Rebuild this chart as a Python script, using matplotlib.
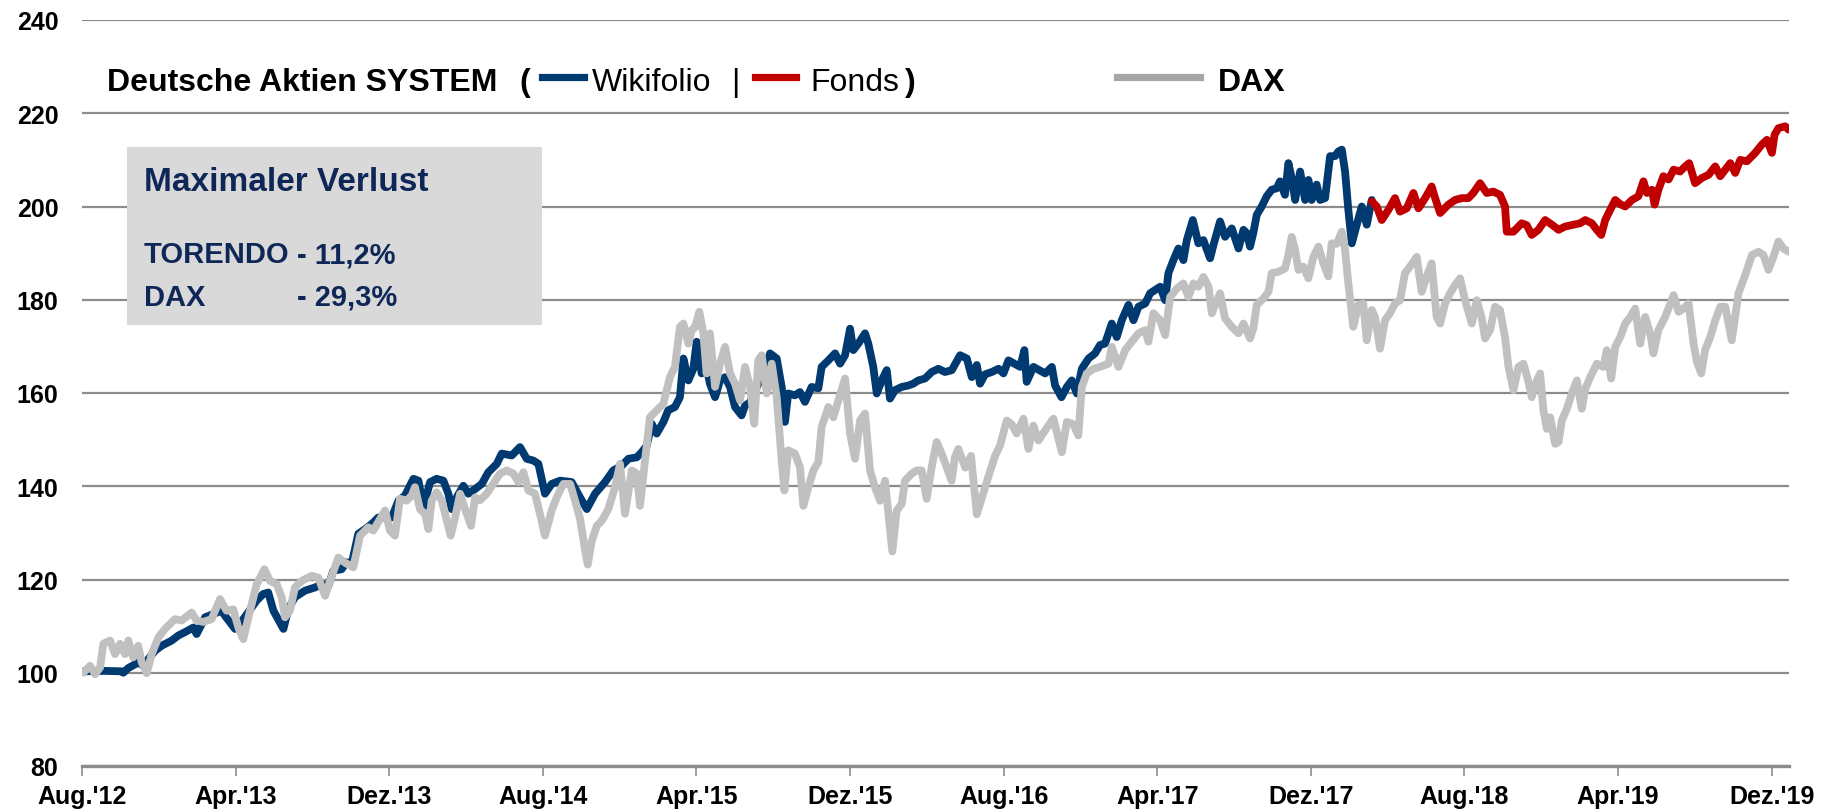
import matplotlib
matplotlib.use("Agg")
import matplotlib.pyplot as plt
from matplotlib.lines import Line2D
from matplotlib.patches import Rectangle

plt.rcParams['font.family'] = ['Liberation Sans', 'DejaVu Sans']

# ---------------- data (x = months since Aug 2012) ----------------
wiki_x = [0.07, 1.2, 2.07, 2.15, 2.41, 2.93, 3.19, 3.37, 3.80, 4.15, 4.67, 5.02, 5.36, 5.80, 5.97,
          6.41, 7.27, 7.45, 7.97, 8.40, 9.10, 9.44, 9.70, 9.97, 10.49, 10.75, 11.09, 11.61, 12.14,
          12.48, 12.83, 13.09, 13.52, 13.78, 14.04, 14.39, 14.74, 15.09, 15.43, 16.13, 16.48, 16.82,
          17.26, 17.52, 17.78, 18.13, 18.47, 18.82, 19.08, 19.25, 19.51, 19.86, 20.12, 20.47, 20.82,
          21.16, 21.60, 21.86, 22.38, 22.81, 23.16, 23.51, 23.77, 24.11, 24.46, 24.90, 25.50, 25.94,
          26.29, 26.72, 27.24, 27.67, 28.11, 28.46, 28.89, 29.15, 29.41, 29.67, 29.93, 30.28, 30.53,
          30.88, 31.14, 31.32, 31.58, 31.84, 32.01, 32.27, 32.53, 32.70, 32.97, 33.23, 33.49, 33.75,
          34.01, 34.35, 34.53, 34.79, 35.22, 35.57, 35.83, 36.18, 36.44, 36.61, 36.78, 37.13, 37.39,
          37.65, 38.00, 38.35, 38.52, 38.87, 39.22, 39.48, 39.74, 40.00, 40.17, 40.43, 40.78, 40.95,
          41.21, 41.39, 41.65, 41.91, 42.08, 42.34, 42.69, 43.03, 43.29, 43.56, 43.90, 44.25, 44.60,
          44.94, 45.30, 45.73, 46.08, 46.34, 46.60, 46.77, 47.03, 47.38, 47.73, 47.99, 48.25, 48.60,
          48.86, 49.08, 49.20, 49.55, 49.90, 50.16, 50.51, 50.68, 51.01, 51.29, 51.55, 51.81, 52.07,
          52.42, 52.76, 53.02, 53.28, 53.63, 53.89, 54.15, 54.50, 54.76, 55.02, 55.37, 55.63, 55.89,
          56.15, 56.41, 56.58, 56.84, 57.10, 57.36, 57.54, 57.85, 58.14, 58.40, 58.75, 58.93, 59.27,
          59.53, 59.88, 60.23, 60.49, 60.66, 60.83, 61.00, 61.18, 61.44, 61.70, 61.96, 62.22, 62.39,
          62.65, 62.83, 63.00, 63.18, 63.44, 63.70, 63.87, 64.04, 64.30, 64.48, 64.74, 65.00, 65.26,
          65.43, 65.61, 65.78, 65.95, 66.13, 66.39, 66.65, 66.91, 67.17]
wiki_y = [100.3, 100.4, 100.3, 100.0, 101.0, 102.2, 101.5, 102.5, 104.7, 105.8, 106.9, 108.0, 108.7,
          109.7, 108.3, 111.9, 113.3, 112.2, 109.4, 111.5, 115.5, 116.9, 117.2, 113.3, 109.4, 113.7,
          116.2, 117.6, 118.3, 119.0, 118.6, 121.9, 122.2, 123.7, 123.3, 129.8, 130.8, 131.9, 133.3,
          133.3, 136.9, 138.0, 141.6, 141.2, 135.5, 140.9, 141.6, 141.2, 138.4, 135.1, 137.6, 140.1,
          138.4, 139.4, 140.5, 143.0, 144.8, 147.0, 146.6, 148.4, 145.9, 145.5, 144.8, 138.4, 140.5,
          141.2, 140.9, 137.6, 135.1, 138.4, 140.9, 143.4, 144.4, 145.9, 146.2, 147.3, 148.7, 153.4,
          151.3, 153.8, 156.3, 157.0, 159.1, 167.4, 162.7, 165.2, 171.0, 164.2, 165.6, 162.0, 159.1,
          162.7, 163.4, 161.3, 157.0, 155.2, 157.3, 158.0, 162.0, 164.2, 168.5, 167.4, 161.3, 153.8,
          159.9, 159.5, 160.2, 158.1, 161.3, 161.0, 165.6, 167.0, 168.5, 166.3, 168.1, 173.8, 169.2,
          170.6, 172.8, 170.6, 165.6, 159.9, 162.7, 164.9, 158.8, 160.6, 161.3, 161.6, 162.0, 162.7,
          163.1, 164.5, 165.2, 164.5, 164.9, 168.1, 167.4, 163.4, 166.0, 162.0, 164.0, 164.5, 165.2,
          164.2, 167.0, 166.2, 165.6, 169.2, 162.4, 165.6, 164.8, 164.2, 165.6, 161.6, 159.1, 161.3,
          162.7, 159.9, 165.2, 167.4, 168.5, 170.3, 170.6, 174.9, 172.0, 175.6, 178.9, 175.6, 178.5,
          179.2, 181.4, 182.1, 182.8, 179.9, 185.7, 188.5, 191.0, 188.5, 192.8, 197.1, 192.1, 192.8,
          188.9, 191.8, 196.8, 193.5, 195.3, 191.0, 195.0, 194.3, 191.4, 194.3, 198.2, 200.0, 202.2,
          203.6, 203.9, 205.4, 202.5, 209.3, 206.1, 201.4, 207.5, 201.4, 205.7, 201.4, 204.7, 201.4,
          201.8, 210.8, 210.8, 211.8, 212.2, 207.5, 199.3, 192.1, 196.1, 200.0, 196.1, 201.4]

fonds_x = [67.17, 67.43, 67.69, 68.04, 68.38, 68.64, 68.99, 69.34, 69.60, 69.95, 70.29, 70.47, 70.73,
           71.16, 71.51, 71.86, 72.20, 72.46, 72.81, 73.16, 73.50, 73.85, 74.11, 74.20, 74.55, 74.98,
           75.24, 75.50, 75.85, 76.20, 76.55, 76.90, 77.24, 77.68, 78.02, 78.29, 78.63, 78.89, 79.12,
           79.33, 79.59, 79.85, 80.11, 80.37, 80.72, 81.06, 81.32, 81.50, 81.76, 81.90, 82.10, 82.36,
           82.63, 82.89, 83.23, 83.49, 83.70, 84.01, 84.36, 84.71, 85.06, 85.32, 85.58, 85.84, 86.10,
           86.36, 86.71, 87.14, 87.49, 87.75, 88.01, 88.15, 88.35, 88.70, 88.87]
fonds_y = [201.1, 200.0, 197.1, 199.3, 201.8, 198.9, 199.6, 202.9, 199.6, 201.8, 204.3, 201.8, 198.6,
           200.4, 201.4, 201.8, 201.8, 202.9, 205.0, 202.9, 203.2, 202.5, 200.0, 194.6, 194.6, 196.4,
           196.0, 193.9, 195.0, 197.1, 196.1, 195.0, 195.7, 196.1, 196.4, 197.1, 196.4, 195.0, 193.9,
           197.1, 199.3, 201.4, 200.5, 200.0, 201.4, 202.2, 205.4, 202.9, 203.6, 200.4, 203.6, 206.5,
           205.8, 207.9, 207.5, 208.6, 209.3, 205.0, 206.1, 206.8, 208.6, 206.5, 207.9, 209.3, 207.2,
           210.0, 209.7, 211.5, 213.3, 214.3, 211.5, 215.4, 216.8, 217.2, 216.5]

dax_x = [0.07, 0.42, 0.68, 0.94, 1.11, 1.46, 1.72, 1.98, 2.24, 2.41, 2.67, 2.93, 3.11, 3.37, 3.63, 3.98,
         4.32, 4.84, 5.19, 5.71, 5.97, 6.32, 6.75, 7.19, 7.53, 7.88, 8.14, 8.40, 8.75, 9.10, 9.50, 9.79,
         10.14, 10.40, 10.57, 10.83, 11.09, 11.44, 11.96, 12.31, 12.66, 12.92, 13.35, 13.70, 14.13,
         14.48, 14.91, 15.17, 15.78, 16.04, 16.30, 16.56, 16.91, 17.17, 17.34, 17.60, 17.87, 18.04,
         18.21, 18.47, 18.73, 18.91, 19.20, 19.43, 19.69, 19.95, 20.26, 20.47, 20.73, 21.08, 21.42,
         21.77, 22.12, 22.47, 22.73, 22.99, 23.25, 23.59, 23.85, 24.11, 24.46, 24.72, 25.07, 25.42,
         25.68, 25.94, 26.20, 26.34, 26.55, 26.81, 27.07, 27.41, 27.76, 28.02, 28.28, 28.63, 28.89,
         29.06, 29.32, 29.58, 29.84, 30.28, 30.36, 30.62, 30.88, 31.14, 31.32, 31.58, 31.75, 31.92,
         32.15, 32.36, 32.53, 32.70, 32.97, 33.23, 33.49, 33.75, 34.01, 34.27, 34.53, 34.79, 35.01,
         35.22, 35.40, 35.66, 35.92, 36.18, 36.44, 36.58, 36.78, 37.13, 37.39, 37.57, 37.83, 38.09,
         38.35, 38.52, 38.87, 39.13, 39.39, 39.74, 40.00, 40.26, 40.52, 40.78, 41.04, 41.30, 41.56,
         41.82, 42.00, 42.20, 42.43, 42.69, 42.86, 43.21, 43.47, 43.73, 43.99, 44.25, 44.51, 44.77,
         45.03, 45.29, 45.46, 45.64, 46.00, 46.30, 46.60, 46.90, 47.20, 47.55, 47.81, 48.16, 48.42,
         48.68, 49.03, 49.29, 49.55, 49.81, 50.16, 50.59, 51.03, 51.29, 51.63, 51.89, 52.07, 52.33,
         52.68, 53.02, 53.46, 53.63, 53.98, 54.33, 54.67, 55.02, 55.37, 55.54, 55.80, 56.15, 56.41,
         56.67, 57.02, 57.36, 57.62, 57.88, 58.14, 58.40, 58.67, 58.84, 59.27, 59.53, 59.88, 60.23,
         60.49, 60.83, 61.00, 61.18, 61.53, 61.79, 61.96, 62.31, 62.65, 62.83, 63.00, 63.18, 63.35,
         63.61, 63.87, 64.13, 64.39, 64.65, 64.91, 65.08, 65.35, 65.61, 65.78, 65.95, 66.21, 66.47,
         66.73, 66.91, 67.17, 67.34, 67.60, 67.86, 68.12, 68.38, 68.64, 68.90, 69.16, 69.51, 69.77,
         70.03, 70.29, 70.55, 70.73, 70.99, 71.25, 71.51, 71.77, 72.03, 72.38, 72.64, 72.90, 73.07,
         73.33, 73.59, 73.85, 74.11, 74.29, 74.55, 74.81, 75.07, 75.33, 75.50, 75.77, 75.94, 76.11,
         76.29, 76.46, 76.72, 76.90, 77.07, 77.33, 77.59, 77.85, 78.11, 78.29, 78.55, 78.89, 79.24,
         79.41, 79.64, 79.85, 80.11, 80.37, 80.63, 80.89, 81.15, 81.41, 81.67, 81.84, 82.10, 82.45,
         82.89, 83.15, 83.41, 83.67, 83.93, 84.10, 84.33, 84.53, 84.80, 85.06, 85.32, 85.58, 85.92,
         86.27, 86.62, 86.97, 87.31, 87.57, 87.83, 88.09, 88.35, 88.61, 88.87]
dax_y = [100.0, 101.5, 99.7, 101.1, 106.2, 106.9, 104.0, 106.2, 104.0, 106.9, 103.3, 105.8, 102.2, 99.9,
         104.0, 107.6, 109.4, 111.5, 111.2, 112.9, 111.2, 110.9, 111.5, 115.8, 113.3, 113.6, 109.7,
         107.2, 113.3, 119.0, 122.2, 119.7, 119.0, 116.2, 111.9, 113.3, 118.3, 119.7, 120.8, 120.4,
         116.5, 119.7, 124.7, 123.6, 122.6, 129.4, 131.2, 130.5, 134.8, 130.5, 129.4, 137.3, 136.9,
         138.0, 139.8, 135.1, 134.0, 130.8, 136.9, 138.7, 137.0, 134.1, 129.4, 133.3, 138.4, 135.1,
         131.5, 137.6, 137.0, 138.4, 140.5, 142.7, 143.4, 142.7, 140.9, 143.0, 139.1, 138.4, 134.1,
         129.4, 134.8, 137.6, 140.5, 140.5, 136.9, 133.0, 126.2, 123.2, 128.3, 131.5, 132.6, 135.1,
         139.8, 144.8, 134.1, 143.4, 142.7, 135.8, 145.5, 154.8, 155.9, 157.7, 159.1, 163.4, 165.6,
         174.2, 174.9, 170.6, 173.5, 174.0, 177.4, 172.8, 164.2, 172.8, 161.3, 166.3, 169.9, 164.2,
         162.0, 158.4, 165.6, 161.3, 153.4, 167.0, 168.1, 159.9, 166.3, 159.1, 145.5, 139.1, 147.7,
         147.0, 144.1, 135.8, 139.8, 143.4, 145.2, 152.7, 157.0, 154.8, 158.4, 163.1, 151.3, 145.9,
         154.1, 155.6, 143.4, 139.8, 136.9, 141.2, 134.1, 126.0, 134.8, 136.2, 141.2, 142.7, 143.4,
         143.4, 137.3, 144.1, 149.5, 147.0, 144.1, 141.2, 146.2, 148.0, 144.0, 146.5, 134.0, 138.0,
         142.0, 146.5, 148.7, 154.1, 153.3, 151.3, 154.5, 148.0, 153.0, 149.8, 152.0, 154.5, 147.3,
         153.8, 153.3, 150.9, 161.3, 164.2, 165.2, 165.6, 166.3, 169.9, 165.6, 169.2, 171.0, 172.8,
         173.5, 171.0, 177.1, 175.6, 172.4, 180.6, 182.4, 183.5, 180.6, 183.5, 182.8, 184.9, 182.8,
         177.1, 181.4, 176.0, 174.2, 172.8, 174.9, 171.7, 173.8, 178.9, 180.3, 181.7, 185.7, 186.0,
         186.7, 189.6, 193.5, 190.7, 186.4, 187.1, 184.6, 189.2, 191.4, 187.8, 185.0, 192.1, 192.0,
         194.6, 190.7, 183.5, 174.2, 178.9, 179.2, 171.3, 177.8, 176.3, 169.5, 175.6, 177.1, 179.2,
         179.9, 185.7, 187.1, 189.2, 181.7, 185.0, 187.8, 176.3, 174.9, 179.2, 181.4, 183.2, 184.6,
         179.9, 174.9, 179.9, 176.0, 171.7, 173.5, 178.5, 177.8, 172.0, 165.6, 160.6, 165.6, 166.3,
         162.4, 159.1, 162.7, 164.2, 156.3, 152.3, 154.8, 149.1, 149.5, 154.1, 156.6, 159.9, 162.7,
         156.6, 160.9, 163.4, 166.3, 165.6, 169.2, 163.1, 169.9, 172.0, 174.9, 176.3, 178.1, 170.6,
         176.3, 172.8, 168.5, 173.5, 176.3, 181.0, 177.4, 178.1, 179.2, 170.6, 166.7, 164.2, 169.2,
         172.0, 175.6, 178.5, 178.5, 171.3, 181.4, 185.3, 189.6, 190.3, 189.6, 186.4, 189.2, 192.5,
         191.0, 190.3]

tick_months = [0, 8, 16, 24, 32, 40, 48, 56, 64, 72, 80, 88]
tick_labels = ["Aug.'12", "Apr.'13", "Dez.'13", "Aug.'14", "Apr.'15", "Dez.'15",
               "Aug.'16", "Apr.'17", "Dez.'17", "Aug.'18", "Apr.'19", "Dez.'19"]
y_ticks = [80, 100, 120, 140, 160, 180, 200, 220, 240]

# ---------------- figure ----------------
W, H = 1841, 812
fig = plt.figure(figsize=(W / 100, H / 100), dpi=100)

def fx(px):
    return px / W

def fy(py):
    return 1 - py / H

ax = fig.add_axes([fx(82), fy(767), fx(1789) - fx(82), fy(21) - fy(767)])

NAVY = '#003a70'
RED = '#c00000'
GRAY = '#c0c0c0'
GRID = '#8c8c8c'
TXT = '#0f2757'
LW = 5.6

ax.plot(wiki_x, wiki_y, color=NAVY, lw=LW, solid_joinstyle='round', solid_capstyle='round', zorder=3)
ax.plot(fonds_x, fonds_y, color=RED, lw=LW, solid_joinstyle='round', solid_capstyle='round', zorder=3)
ax.plot(dax_x, dax_y, color=GRAY, lw=LW, solid_joinstyle='round', solid_capstyle='round', zorder=4)

ax.set_xlim(0, 88.9)
ax.set_ylim(80, 240)
ax.set_yticks(y_ticks)
ax.set_yticklabels([str(v) for v in y_ticks], fontsize=18, fontweight='bold')
ax.set_xticks(tick_months)
ax.set_xticklabels(tick_labels, fontsize=18, fontweight='bold')
ax.tick_params(axis='y', length=0, pad=17)
ax.tick_params(axis='x', length=7, width=1.2, color=GRID, pad=6, direction='out')
ax.yaxis.grid(True, color=GRID, lw=1.6, zorder=0)
ax.set_axisbelow(True)
for s in ['left', 'right', 'top']:
    ax.spines[s].set_visible(False)
ax.spines['bottom'].set_color(GRID)
ax.spines['bottom'].set_linewidth(2.4)

# ---------------- info box ----------------
box = Rectangle((fx(127), fy(326)), fx(542) - fx(127), fy(148) - fy(326),
                transform=fig.transFigure, facecolor='#d9d9d9', edgecolor='none', zorder=5)
fig.add_artist(box)
fig.text(fx(144), fy(191), "Maximaler Verlust", fontsize=24, fontweight='bold', color=TXT,
         va='baseline', ha='left', zorder=6)
fig.text(fx(144), fy(263), "TORENDO", fontsize=21, fontweight='bold', color=TXT, va='baseline', zorder=6)
fig.text(fx(297), fy(263), "- 11,2%", fontsize=21, fontweight='bold', color=TXT, va='baseline', zorder=6)
fig.text(fx(144), fy(306), "DAX", fontsize=21, fontweight='bold', color=TXT, va='baseline', zorder=6)
fig.text(fx(297), fy(306), "- 29,3%", fontsize=21, fontweight='bold', color=TXT, va='baseline', zorder=6)

# ---------------- legend ----------------
LB = fy(91)
LY = fy(78)
fig.text(fx(107), LB, "Deutsche Aktien SYSTEM", fontsize=23, fontweight='bold', va='baseline')
fig.text(fx(519), LB, "(", fontsize=23, fontweight='bold', va='baseline')
fig.add_artist(Line2D([fx(542), fx(584)], [LY, LY], color=NAVY, lw=5.2, transform=fig.transFigure))
fig.text(fx(592), LB, "Wikifolio", fontsize=23, va='baseline')
fig.text(fx(731), LB, "|", fontsize=23, va='baseline')
fig.add_artist(Line2D([fx(755), fx(796)], [LY, LY], color=RED, lw=5.2, transform=fig.transFigure))
fig.text(fx(810), LB, "Fonds", fontsize=23, va='baseline')
fig.text(fx(905), LB, ")", fontsize=23, fontweight='bold', va='baseline')
fig.add_artist(Line2D([fx(1117), fx(1200)], [LY, LY], color='#a6a6a6', lw=5.2, transform=fig.transFigure))
fig.text(fx(1218), LB, "DAX", fontsize=23, fontweight='bold', va='baseline')

fig.savefig("out.png", dpi=100)
